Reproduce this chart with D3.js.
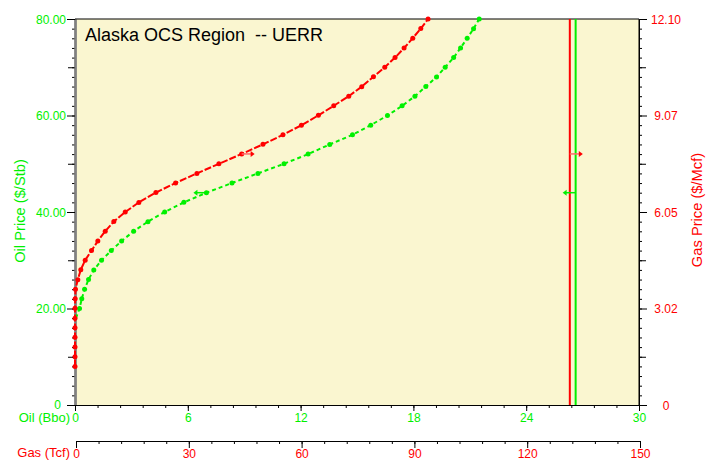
<!doctype html>
<meta charset="utf-8">
<title>Alaska OCS Region -- UERR</title>
<style>
    html, body { margin: 0; background: white; }
    svg { display: block; font-family: "Liberation Sans", Arial, sans-serif; }
    .tick text { font-size: 12px; }
</style>
<svg width=706 height=460></svg>
<script src="https://cdn.jsdelivr.net/npm/d3@7"></script>
<script>
    // oil curve: price ($/Stb) vs cumulative oil (Bbo)
    var oilPrice = [18, 20, 22, 24, 26, 28, 30, 32, 34, 36, 38, 40, 42, 44, 46, 48, 50, 52, 54, 56, 58, 60,
        62, 64, 66, 68, 70, 72, 74, 76, 78, 80];
    var oilBbo = [0.05, 0.24, 0.36, 0.51, 0.72, 1.00, 1.41, 1.93, 2.48, 3.12, 3.88, 4.77, 5.79, 6.99, 8.35, 9.73,
        11.12, 12.40, 13.55, 14.76, 15.73, 16.62, 17.40, 18.08, 18.66, 19.23, 19.69, 20.14, 20.51, 20.86, 21.20, 21.50];

    // gas curve: price ($/Mcf) vs cumulative gas (Tcf)
    var gasPrice = [1.21, 1.51, 1.82, 2.12, 2.42, 2.72, 3.03, 3.33, 3.63, 3.93, 4.24, 4.54, 4.84, 5.14, 5.45, 5.75,
        6.05, 6.35, 6.66, 6.96, 7.26, 7.56, 7.87, 8.17, 8.47, 8.77, 9.08, 9.38, 9.68, 9.98, 10.29, 10.59, 10.89,
        11.19, 11.50, 11.80, 12.10];
    var gasTcf = [0, 0, 0, 0, 0, 0, 0, 0.05, 0.13, 0.75, 1.54, 2.71, 4.39, 6.07, 8.04, 10.33, 13.36, 16.98, 21.51,
        26.75, 32.42, 38.27, 44.32, 49.99, 55.31, 60.21, 64.73, 68.81, 72.80, 76.26, 79.37, 82.38, 85.12, 87.52,
        89.83, 91.96, 93.90];

    // UERR asymptotes
    var oilUerr = 26.63; // Bbo
    var gasUerr = 131.6; // Tcf

    // arrow positions (which axis each curve is read on)
    var oilArrowPrice = 44, oilArrowBbo = 6.99;
    var gasArrowPrice = 7.87, gasArrowTcf = 44.32;

    // ticks
    var oilPriceTicks = [0, 20, 40, 60, 80];
    var oilPriceLabels = ['0', '20.00', '40.00', '60.00', '80.00'];
    var gasPriceTicks = [0, 3.025, 6.05, 9.075, 12.1];
    var gasPriceLabels = ['0', '3.02', '6.05', '9.07', '12.10'];
    var oilQtyTicks = [0, 6, 12, 18, 24, 30];
    var gasQtyTicks = [0, 30, 60, 90, 120, 150];

    var green = '#00f000';
    var red = '#ff0000';

    var svg = d3.select('svg');
    var pLeft = 75, pRight = 639, pTop = 19, pBottom = 405, gasAxisY = 441;

    var xOil = d3.scaleLinear().domain([0, 30]).range([pLeft, pRight]);
    var xGas = d3.scaleLinear().domain([0, 150]).range([pLeft, pRight]);
    var yOil = d3.scaleLinear().domain([0, 80]).range([pBottom, pTop]);
    var yGas = d3.scaleLinear().domain([0, 12.1]).range([pBottom, pTop]);

    // plot background
    svg.append('rect')
        .attr('x', pLeft).attr('y', pTop)
        .attr('width', pRight - pLeft).attr('height', pBottom - pTop)
        .attr('fill', '#faf6d0');

    // minor ticks first, then the labelled ones
    function minor(axis, values, size) {
        return axis.tickValues(values).tickSize(size).tickSizeOuter(0).tickFormat('');
    }

    var gLeft = svg.append('g').attr('transform', 'translate(' + pLeft + ',0)');
    gLeft.append('g').call(minor(d3.axisLeft(yOil), d3.range(0, 81, 2), 3));
    gLeft.append('g').call(minor(d3.axisLeft(yOil), d3.range(10, 80, 20), 7));
    gLeft.append('g').attr('class', 'major')
        .call(d3.axisLeft(yOil).tickValues(oilPriceTicks).tickSize(8).tickSizeOuter(0)
            .tickFormat(function (d, i) { return oilPriceLabels[i]; }));
    gLeft.selectAll('.major text').attr('fill', green).attr('dy', '0.35em')
        .attr('x', function (d) { return d === 0 ? -14 : -9; })
        .attr('y', function (d) { return d === 0 ? -1 : 0; });

    var gRight = svg.append('g').attr('transform', 'translate(' + pRight + ',0)');
    gRight.append('g').call(minor(d3.axisRight(yGas), d3.range(0, 40.5, 1).map(function (k) { return k * 0.3025; }), 3));
    gRight.append('g').call(minor(d3.axisRight(yGas), [1.5125, 4.5375, 7.5625, 10.5875], 7));
    gRight.append('g').attr('class', 'major')
        .call(d3.axisRight(yGas).tickValues(gasPriceTicks).tickSize(8).tickSizeOuter(0)
            .tickFormat(function (d, i) { return gasPriceLabels[i]; }));
    gRight.selectAll('.major text').attr('fill', red).attr('x', 27).attr('text-anchor', 'middle').attr('dy', '0.35em');

    var gBottom = svg.append('g').attr('transform', 'translate(0,' + pBottom + ')');
    gBottom.append('g').call(minor(d3.axisBottom(xOil), d3.range(0, 30.1, 1.2), 3));
    gBottom.append('g').attr('class', 'major')
        .call(d3.axisBottom(xOil).tickValues(oilQtyTicks).tickSize(6).tickSizeOuter(0).tickFormat(d3.format('d')));
    gBottom.selectAll('.major text').attr('fill', green).attr('y', 8);

    var gGas = svg.append('g').attr('transform', 'translate(1,' + gasAxisY + ')');
    gGas.append('g').call(minor(d3.axisBottom(xGas), d3.range(0, 150.1, 6), 3));
    gGas.append('g').attr('class', 'major')
        .call(d3.axisBottom(xGas).tickValues(gasQtyTicks).tickSize(7).tickSizeOuter(0).tickFormat(d3.format('d')));
    gGas.selectAll('.major text').attr('fill', red).attr('y', 8);

    svg.selectAll('.domain').attr('stroke', '#000');
    gLeft.selectAll('.domain').attr('stroke', '#808080').attr('stroke-width', 2);

    // top and right frame
    svg.append('path')
        .attr('d', 'M' + pLeft + ',' + pTop + 'H' + pRight + 'V' + pBottom)
        .attr('fill', 'none').attr('stroke', '#000');

    // axis names
    svg.append('text').attr('x', 70).attr('y', pBottom + 17).attr('text-anchor', 'end')
        .attr('font-size', 13).attr('fill', green).text('Oil (Bbo)');
    svg.append('text').attr('x', 70).attr('y', gasAxisY + 16).attr('text-anchor', 'end')
        .attr('font-size', 13).attr('fill', red).text('Gas (Tcf)');
    svg.append('text').attr('transform', 'translate(25,' + 211 + ') rotate(-90)')
        .attr('text-anchor', 'middle').attr('font-size', 14.7).attr('fill', green).text('Oil Price ($/Stb)');
    svg.append('text').attr('transform', 'translate(702,' + 210 + ') rotate(-90)')
        .attr('text-anchor', 'middle').attr('font-size', 14.7).attr('fill', red).text('Gas Price ($/Mcf)');

    svg.append('text').attr('x', 85).attr('y', 41).attr('font-size', 18).attr('fill', '#000')
        .style('white-space', 'pre').text('Alaska OCS Region  -- UERR');

    // UERR vertical lines
    svg.append('line')
        .attr('x1', xGas(gasUerr)).attr('x2', xGas(gasUerr)).attr('y1', pTop).attr('y2', pBottom)
        .attr('stroke', red).attr('stroke-width', 2);
    svg.append('line')
        .attr('x1', xOil(oilUerr)).attr('x2', xOil(oilUerr)).attr('y1', pTop).attr('y2', pBottom)
        .attr('stroke', green).attr('stroke-width', 2);

    // curves
    var oil = oilPrice.map(function (p, i) { return { x: xOil(oilBbo[i]), y: yOil(p) }; });
    var gas = gasPrice.map(function (p, i) { return { x: xGas(gasTcf[i]), y: yGas(p) }; });
    var line = d3.line().x(function (d) { return d.x; }).y(function (d) { return d.y; });

    svg.append('path').attr('d', line(oil)).attr('fill', 'none')
        .attr('stroke', green).attr('stroke-width', 2).attr('stroke-dasharray', '4,3');
    svg.append('g').selectAll('circle').data(oil.slice(1)).enter().append('circle')
        .attr('cx', function (d) { return d.x; }).attr('cy', function (d) { return d.y; })
        .attr('r', 2.5).attr('fill', green);

    svg.append('path').attr('d', line(gas)).attr('fill', 'none')
        .attr('stroke', red).attr('stroke-width', 2).attr('stroke-dasharray', '7,2');
    svg.append('g').selectAll('circle').data(gas).enter().append('circle')
        .attr('cx', function (d) { return d.x; }).attr('cy', function (d) { return d.y; })
        .attr('r', 2.5).attr('fill', red);

    // arrows
    function arrow(x, y, dir, color, shaft) {
        var len = 13;
        svg.append('line').attr('x1', x).attr('y1', y).attr('x2', x + dir * (len - 3)).attr('y2', y)
            .attr('stroke', shaft).attr('stroke-width', 1.5);
        var tip = x + dir * len;
        svg.append('path')
            .attr('d', 'M' + tip + ',' + y + 'L' + (tip - dir * 4) + ',' + (y - 3) + 'L' + (tip - dir * 4) + ',' + (y + 3) + 'Z')
            .attr('fill', color);
    }
    arrow(xGas(gasArrowTcf), yGas(gasArrowPrice), 1, red, '#ff6a6a');
    arrow(xOil(oilArrowBbo), yOil(oilArrowPrice), -1, green, green);
    arrow(xGas(gasUerr), yGas(gasArrowPrice), 1, red, '#ff6a6a');
    arrow(xOil(oilUerr), yOil(oilArrowPrice), -1, green, green);
</script>
